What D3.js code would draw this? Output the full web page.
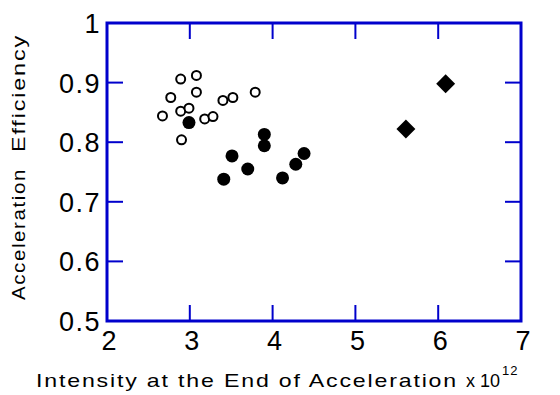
<!DOCTYPE html>
<html>
<head>
<meta charset="utf-8">
<script src="https://cdn.jsdelivr.net/npm/d3@7"></script>
<style>
  body { margin: 0; background: #fff; }
  text { font-family: "Liberation Sans", Arial, sans-serif; fill: #000; }
</style>
</head>
<body>
<svg id="chart" width="560" height="395"></svg>
<script>
// open circles
var openX = [2.89, 3.08, 3.08, 2.77, 2.67, 2.89, 2.99, 3.18, 3.28, 3.40, 3.52, 3.79, 2.90];
var openY = [0.906, 0.912, 0.884, 0.875, 0.844, 0.852, 0.857, 0.839, 0.843, 0.870, 0.875, 0.884, 0.804];
// filled circles
var fillX = [2.99, 3.90, 3.90, 3.51, 3.70, 3.41, 4.12, 4.28, 4.38];
var fillY = [0.833, 0.813, 0.794, 0.777, 0.755, 0.738, 0.740, 0.763, 0.781];
// diamonds
var diaX = [6.09, 5.61];
var diaY = [0.898, 0.822];

var xTicks = [2, 3, 4, 5, 6, 7];
var yTicks = [0.5, 0.6, 0.7, 0.8, 0.9, 1];

var blue = "#0000cc";
var svg = d3.select("#chart");

var x = d3.scaleLinear().domain([2, 7]).range([107, 521]);
var y = d3.scaleLinear().domain([0.5, 1]).range([321, 23]);

// inward ticks on all four sides
var tickLen = 16;
var ticks = svg.append("g").attr("stroke", blue).attr("stroke-width", 2);
xTicks.forEach(function (t) {
  ticks.append("line").attr("x1", x(t)).attr("x2", x(t)).attr("y1", y(0.5)).attr("y2", y(0.5) - tickLen);
  ticks.append("line").attr("x1", x(t)).attr("x2", x(t)).attr("y1", y(1)).attr("y2", y(1) + tickLen);
});
yTicks.forEach(function (t) {
  ticks.append("line").attr("x1", x(2)).attr("x2", x(2) + tickLen).attr("y1", y(t)).attr("y2", y(t));
  ticks.append("line").attr("x1", x(7)).attr("x2", x(7) - tickLen).attr("y1", y(t)).attr("y2", y(t));
});

// box
svg.append("rect")
  .attr("x", x(2)).attr("y", y(1))
  .attr("width", x(7) - x(2)).attr("height", y(0.5) - y(1))
  .attr("fill", "none").attr("stroke", blue).attr("stroke-width", 3);

// tick labels
svg.append("g").selectAll("text").data(xTicks).enter().append("text")
  .attr("x", function (d) { return x(d) + 2; })
  .attr("y", 350)
  .attr("text-anchor", "middle")
  .style("font-size", "27px")
  .text(function (d) { return d; });

svg.append("g").selectAll("text").data(yTicks).enter().append("text")
  .attr("x", 101)
  .attr("y", function (d) { return y(d) + 10; })
  .attr("text-anchor", "end")
  .style("font-size", "27px")
  .style("letter-spacing", "1.5px")
  .text(function (d) { return d === 1 ? "1" : d.toFixed(1); });

// x axis label
svg.append("text")
  .attr("x", 36).attr("y", 387)
  .attr("textLength", 422).attr("lengthAdjust", "spacingAndGlyphs")
  .style("font-size", "19px")
  .style("letter-spacing", "1.5px")
  .text("Intensity at the End of Acceleration");
svg.append("text")
  .attr("x", 466).attr("y", 387)
  .style("font-size", "18px")
  .text("x 10");
svg.append("text")
  .attr("x", 502).attr("y", 375)
  .style("font-size", "13px")
  .style("letter-spacing", "1px")
  .text("12");

// y axis label
svg.append("text")
  .attr("transform", "translate(25,300) rotate(-90)")
  .attr("textLength", 132).attr("lengthAdjust", "spacingAndGlyphs")
  .style("font-size", "19px")
  .style("letter-spacing", "1.5px")
  .text("Acceleration");
svg.append("text")
  .attr("transform", "translate(25,152) rotate(-90)")
  .attr("textLength", 118).attr("lengthAdjust", "spacingAndGlyphs")
  .style("font-size", "19px")
  .style("letter-spacing", "1.5px")
  .text("Efficiency");

// points
var pts = svg.append("g");
pts.selectAll(".open").data(d3.range(openX.length)).enter().append("circle")
  .attr("class", "open")
  .attr("cx", function (i) { return x(openX[i]); })
  .attr("cy", function (i) { return y(openY[i]); })
  .attr("r", 4.5)
  .attr("fill", "#fff").attr("stroke", "#000").attr("stroke-width", 2);

pts.selectAll(".filled").data(d3.range(fillX.length)).enter().append("circle")
  .attr("class", "filled")
  .attr("cx", function (i) { return x(fillX[i]); })
  .attr("cy", function (i) { return y(fillY[i]); })
  .attr("r", 6.5)
  .attr("fill", "#000");

pts.selectAll(".dia").data(d3.range(diaX.length)).enter().append("path")
  .attr("class", "dia")
  .attr("d", d3.symbol().type(d3.symbolSquare).size(180))
  .attr("transform", function (i) {
    return "translate(" + x(diaX[i]) + "," + y(diaY[i]) + ") rotate(45)";
  })
  .attr("fill", "#000");
</script>
</body>
</html>
